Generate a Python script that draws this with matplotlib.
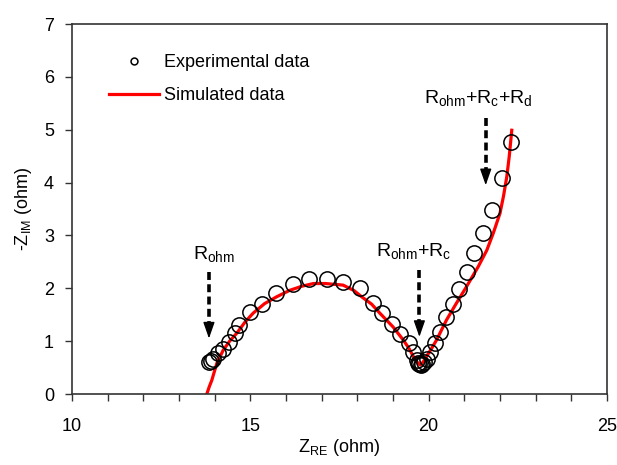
import numpy as np
import matplotlib
matplotlib.use("Agg")
import matplotlib.pyplot as plt

plt.rcParams['font.family'] = ['Liberation Sans', 'DejaVu Sans']
plt.rcParams['mathtext.fontset'] = 'custom'
plt.rcParams['mathtext.rm'] = 'Liberation Sans'
plt.rcParams['mathtext.it'] = 'Liberation Sans'

z_re_exp = [13.85, 13.90, 13.95, 14.10, 14.24, 14.41, 14.57, 14.69, 14.99, 15.32,
            15.72, 16.20, 16.65, 17.14, 17.59, 18.07, 18.43, 18.68, 18.96, 19.20,
            19.46, 19.57, 19.66, 19.70, 19.74, 19.78, 19.82, 19.88, 19.95, 20.04,
            20.18, 20.32, 20.49, 20.67, 20.86, 21.08, 21.27, 21.51, 21.77, 22.07,
            22.30]
z_im_exp = [0.61, 0.63, 0.66, 0.77, 0.86, 0.99, 1.15, 1.31, 1.56, 1.71,
            1.92, 2.08, 2.17, 2.17, 2.11, 2.00, 1.73, 1.53, 1.32, 1.14,
            0.96, 0.80, 0.65, 0.58, 0.56, 0.55, 0.57, 0.60, 0.66, 0.80,
            0.96, 1.18, 1.45, 1.70, 1.98, 2.30, 2.66, 3.05, 3.49, 4.08,
            4.77]

# Simulated data
z_re_sim = [13.78, 13.85, 13.92, 14.06, 14.24, 14.42, 14.62, 14.85, 15.08, 15.40,
            15.74, 16.10, 16.45, 16.77, 17.10, 17.60, 17.90, 18.12, 18.40, 18.63,
            19.00, 19.29, 19.45, 19.57, 19.68, 19.76, 19.84, 19.94, 20.08, 20.22,
            20.50, 20.78, 21.06, 21.39, 21.63, 21.81, 22.00, 22.10, 22.19, 22.26,
            22.33]
z_im_sim = [0.00, 0.14, 0.26, 0.58, 0.83, 1.00, 1.15, 1.36, 1.53, 1.71,
            1.84, 1.96, 2.04, 2.09, 2.09, 2.06, 1.96, 1.84, 1.70, 1.53,
            1.27, 1.02, 0.86, 0.71, 0.60, 0.55, 0.60, 0.71, 0.86, 1.02,
            1.40, 1.72, 2.03, 2.41, 2.72, 3.04, 3.42, 3.75, 4.11, 4.50,
            4.99]

# Annotations: label, arrow x, arrow top y, arrow tip y, text x, text y
ann_labels = [r'R$_{\mathrm{ohm}}$', r'R$_{\mathrm{ohm}}$+R$_{\mathrm{c}}$',
              r'R$_{\mathrm{ohm}}$+R$_{\mathrm{c}}$+R$_{\mathrm{d}}$']
ann_x = [13.84, 19.74, 21.60]
ann_top = [2.30, 2.35, 5.23]
ann_tip = [1.05, 1.08, 3.95]
ann_text_x = [13.97, 19.59, 21.38]
ann_text_y = [2.55, 2.62, 5.50]

fig = plt.figure(figsize=(6.17, 4.65), dpi=100)
ax = fig.add_axes([72 / 617, 1 - 394 / 465, 535 / 617, 370 / 465])

ax.plot(z_re_sim, z_im_sim, color='#ff0000', lw=2.3, zorder=2, label='Simulated data')
ax.plot(z_re_exp, z_im_exp, 'o', mfc='none', mec='black', ms=11, mew=1.1,
        zorder=3, label='Experimental data')

for lab, x, top, tip, tx, ty in zip(ann_labels, ann_x, ann_top, ann_tip,
                                    ann_text_x, ann_text_y):
    head = 0.30
    ax.plot([x, x], [top, tip + head], color='black', lw=2.6,
            linestyle=(0, (2.2, 1.2)), zorder=4)
    ax.annotate('', xy=(x, tip), xytext=(x, tip + head),
                arrowprops=dict(arrowstyle='-|>,head_length=1.0,head_width=0.35',
                                color='black', lw=1.0, shrinkA=0, shrinkB=0),
                zorder=4)
    ax.text(tx, ty, lab, ha='center', va='baseline', fontsize=14)

ax.set_xlim(10, 25)
ax.set_ylim(0, 7)
ax.set_xticks([10, 15, 20, 25])
ax.set_xticks(np.arange(10, 26, 1), minor=True)
ax.set_yticks(np.arange(0, 8, 1))
ax.tick_params(direction='out', length=5, width=1, labelsize=13, colors='#333333',
               labelcolor='black', pad=12)
ax.tick_params(axis='x', which='minor', direction='out', length=5, width=1,
               colors='#333333')
ax.tick_params(axis='y', pad=8)
for s in ax.spines.values():
    s.set_color('#333333')
    s.set_linewidth(1.2)

ax.set_xlabel(r'Z$_{\mathrm{RE}}$ (ohm)', fontsize=13, labelpad=2)
ax.set_ylabel(r'-Z$_{\mathrm{IM}}$ (ohm)', fontsize=13, labelpad=7)

handles, labels = ax.get_legend_handles_labels()
leg = ax.legend(handles[::-1], labels[::-1], loc='upper left',
                bbox_to_anchor=(0.052, 0.942), frameon=False, fontsize=13,
                handlelength=2.8, handletextpad=0.25, labelspacing=0.85,
                markerscale=0.45, borderpad=0)

fig.savefig('out.png', dpi=100)
